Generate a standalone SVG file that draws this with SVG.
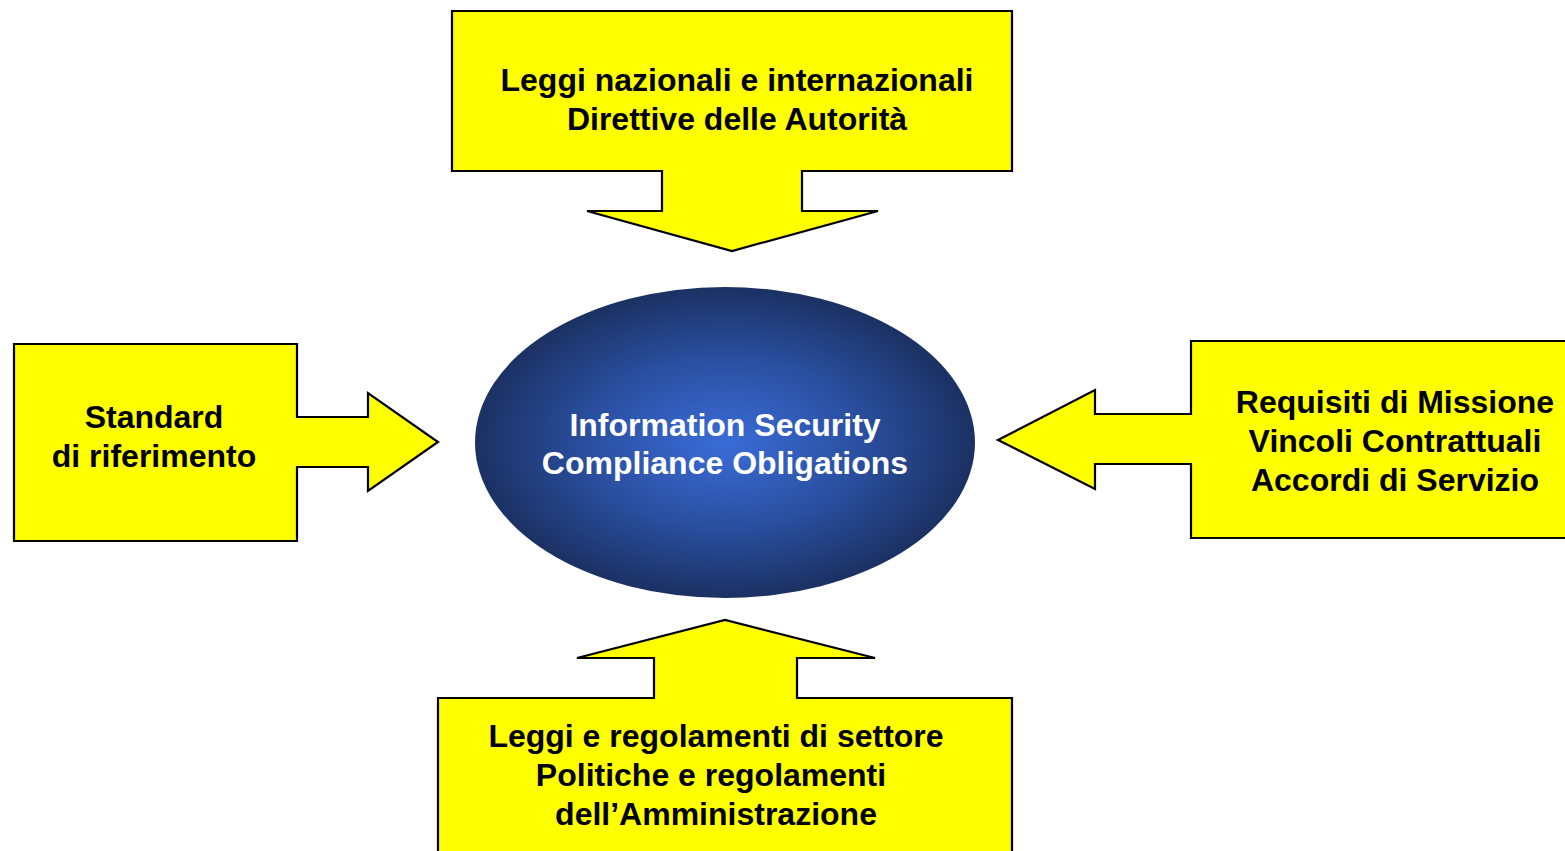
<svg xmlns="http://www.w3.org/2000/svg" width="1565" height="851" viewBox="0 0 1565 851">
<defs>
<radialGradient id="blueGrad" cx="50%" cy="50%" r="50%">
<stop offset="0" stop-color="#3a6cd8"/>
<stop offset="0.55" stop-color="#2a4f9f"/>
<stop offset="1" stop-color="#1b3163"/>
</radialGradient>
<style>
.callout{fill:#ffff00;stroke:#000;stroke-width:2.2;stroke-linejoin:miter}
.lbl{font-family:"Liberation Sans",Arial,sans-serif;font-weight:bold;font-size:32px;fill:#000;text-anchor:middle}
.clbl{font-family:"Liberation Sans",Arial,sans-serif;font-weight:bold;font-size:32px;fill:#fff;text-anchor:middle}
</style>
</defs>
<rect width="1565" height="851" fill="#fff"/>
<g id="connectors"/>
<g id="node-top">
<path class="callout" d="M452,11 H1012 V171 H802 V211 H878 L732,251 L587,211 H662 V171 H452 Z"/>
<text class="lbl" x="737" y="91">Leggi nazionali e internazionali</text>
<text class="lbl" x="737" y="130">Direttive delle Autorità</text>
</g>
<g id="node-left">
<path class="callout" d="M14,344 H297 V417 H368 V393 L438,442 L368,491 V467 H297 V541 H14 Z"/>
<text class="lbl" x="154" y="428">Standard</text>
<text class="lbl" x="154" y="467">di riferimento</text>
</g>
<g id="node-right">
<path class="callout" d="M1570,341 H1191 V414 H1095 V390 L998,440 L1095,489 V464 H1191 V538 H1570"/>
<text class="lbl" x="1395" y="413">Requisiti di Missione</text>
<text class="lbl" x="1395" y="452">Vincoli Contrattuali</text>
<text class="lbl" x="1395" y="491">Accordi di Servizio</text>
</g>
<g id="node-bottom">
<path class="callout" d="M438,856 V698 H654 V658 H577 L725,620 L875,658 H797 V698 H1012 V856"/>
<text class="lbl" x="716" y="747">Leggi e regolamenti di settore</text>
<text class="lbl" x="711" y="786">Politiche e regolamenti</text>
<text class="lbl" x="716" y="825">dell’Amministrazione</text>
</g>
<g id="node-center">
<ellipse cx="725" cy="442.5" rx="250" ry="155.5" fill="url(#blueGrad)"/>
<text class="clbl" x="725" y="436">Information Security</text>
<text class="clbl" x="725" y="474">Compliance Obligations</text>
</g>
</svg>
